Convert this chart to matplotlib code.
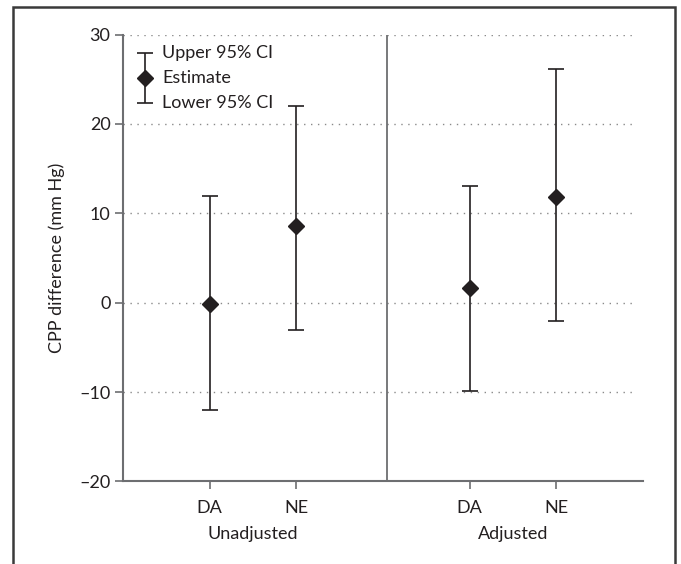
import matplotlib.pyplot as plt
from matplotlib.patches import Rectangle

plt.rcParams['font.family'] = ['Lato', 'DejaVu Sans']

# data
groups = ["Unadjusted", "Adjusted"]
drugs = ["DA", "NE"]
x_pos = [1, 2, 4, 5]
estimate = [-0.1, 8.6, 1.7, 11.8]
lower_ci = [-12.0, -3.0, -9.9, -2.1]
upper_ci = [11.9, 22.0, 13.0, 26.1]
y_ticks = [-20, -10, 0, 10, 20, 30]

ink = "#231f20"
spine_col = "#6d6e71"
fs = 13

fig = plt.figure(figsize=(6.81, 5.64), dpi=100)
ax = fig.add_axes([0.1806, 0.1463, 0.7636, 0.7925])

yerr = [[e - lo for e, lo in zip(estimate, lower_ci)],
        [hi - e for e, hi in zip(estimate, upper_ci)]]
ax.errorbar(x_pos, estimate, yerr=yerr, fmt='D', color=ink, ms=8,
            elinewidth=1.2, capsize=6, capthick=1.2, zorder=3)

ax.set_xlim(0, 6)
ax.set_ylim(-20, 30)
ax.set_yticks(y_ticks)
ax.set_yticklabels([str(t).replace('-', '\u2013') for t in y_ticks])
ax.set_xticks(x_pos)
ax.set_xticklabels(drugs * 2)
ax.set_ylabel("CPP difference (mm Hg)", fontsize=fs, color=ink, labelpad=10)

for t in y_ticks[1:]:
    ax.axhline(t, xmax=0.985, color="#8a8a8a", lw=1.0, ls=(0, (1, 4)), zorder=1)
ax.axvline(3.05, color=spine_col, lw=1.3, zorder=2)

for s in ["top", "right"]:
    ax.spines[s].set_visible(False)
for s in ["left", "bottom"]:
    ax.spines[s].set_color(spine_col)
    ax.spines[s].set_linewidth(1.5)
ax.tick_params(axis='both', colors=spine_col, labelcolor=ink, labelsize=fs,
               length=6, width=1.2)
ax.tick_params(axis='y', pad=3)
ax.tick_params(axis='x', pad=7)

# group labels under the tick labels
for i, g in enumerate(groups):
    xc = (x_pos[2 * i] + x_pos[2 * i + 1]) / 2
    ax.text(xc, -0.1175, g, transform=ax.get_xaxis_transform(),
            ha='center', va='center', fontsize=fs, color=ink)

# key in the upper left corner
kx, ktop, kmid, kbot = 0.0423, 0.9586, 0.9027, 0.8468
ax.errorbar([kx], [kmid], yerr=[[kmid - kbot], [ktop - kmid]], fmt='D',
            color=ink, ms=8, elinewidth=1.2, capsize=6, capthick=1.2,
            transform=ax.transAxes, clip_on=False, zorder=4)
for yy, lab in zip([ktop, kmid, kbot], ["Upper 95% CI", "Estimate", "Lower 95% CI"]):
    ax.text(0.075, yy, lab, transform=ax.transAxes, ha='left', va='center',
            fontsize=fs, color=ink)

# outer frame
fig.patches.append(Rectangle((12.5 / 681, -0.01), (675 - 12.5) / 681, 1.01 - 7 / 564,
                             transform=fig.transFigure, fill=False,
                             edgecolor="#3a3a3a", lw=1.8))

fig.savefig("out.png", dpi=100)
